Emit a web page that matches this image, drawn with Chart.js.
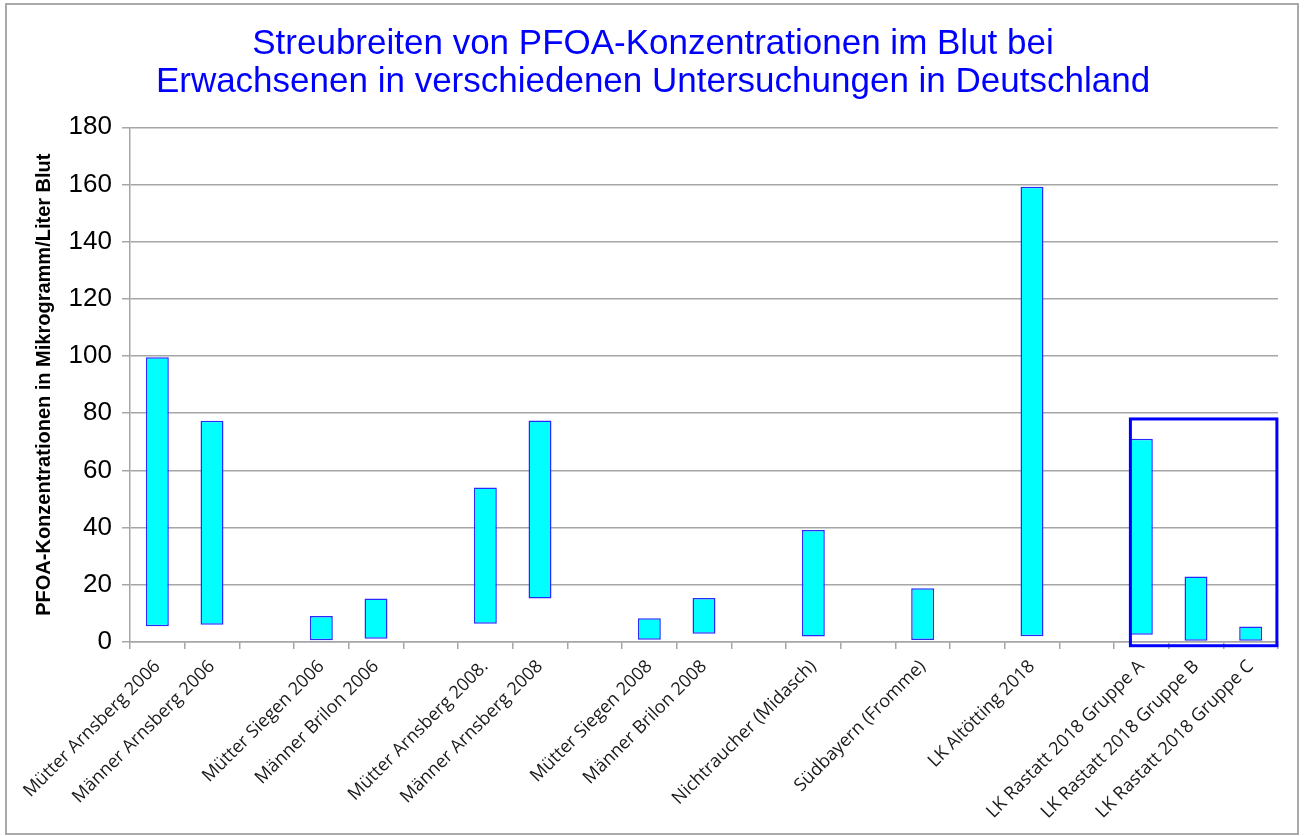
<!DOCTYPE html>
<html>
<head>
<meta charset="utf-8">
<script src="https://cdn.jsdelivr.net/npm/chart.js@4/dist/chart.umd.min.js"></script>
<style>
  html, body { margin: 0; padding: 0; background: #ffffff; }
  #frame {
    position: absolute; left: 5px; top: 3px;
    width: 1290px; height: 828px;
    border: 2px solid #a9a9a9;
  }
  #wrap { position: absolute; left: 0; top: 0; width: 1304px; height: 836px; }
</style>
</head>
<body>
<div id="frame"></div>
<div id="wrap"><canvas id="rangeChart"></canvas></div>
<script>
// Categories ('' = empty slot between groups)
const categories = [
    'Mütter Arnsberg 2006', 'Männer Arnsberg 2006', '',
    'Mütter Siegen 2006', 'Männer Brilon 2006', '',
    'Mütter Arnsberg 2008.', 'Männer Arnsberg 2008', '',
    'Mütter Siegen 2008', 'Männer Brilon 2008', '',
    'Nichtraucher (Midasch)', '',
    'Südbayern (Fromme)', '',
    'LK Altötting 2018', '',
    'LK Rastatt 2018 Gruppe A', 'LK Rastatt 2018 Gruppe B', 'LK Rastatt 2018 Gruppe C'
];

// Range of PFOA values (µg/l), lower and upper end
const lowValues  = [5.5, 6, null, 0.6, 1.1, null, 6.4, 15.2, null, 0.8, 2.9, null, 1.9, null, 0.7, null, 2, null, 2.5, 0.4, 0.4];
const highValues = [99.6, 77.4, null, 9.1, 15.2, null, 54, 77.5, null, 8.3, 15.4, null, 39.2, null, 18.8, null, 159.2, null, 71.1, 22.9, 5.4];

const yTicks = [0, 20, 40, 60, 80, 100, 120, 140, 160, 180];

// Highlight frame around the Rastatt groups (category index / value units)
const boxIndexRange = [17.8, 20.48];
const boxValueRange = [-1.3, 78];

const ranges = categories.map((c, i) =>
    lowValues[i] === null ? null : [lowValues[i], highValues[i]]);

const colors = {
    fill:   '#00ffff',
    border: '#2a2aff',
    title:  '#0000ff',
    grid:   '#a6a6a6',
    text:   '#000000'
};

// Draw the blue highlight rectangle through the scales
const highlightBox = {
    id: 'highlightBox',
    afterDatasetsDraw(chart) {
        const x = chart.scales.x, y = chart.scales.y, ctx = chart.ctx;
        const left = x.getPixelForValue(boxIndexRange[0]);
        const right = x.getPixelForValue(boxIndexRange[1]);
        const top = y.getPixelForValue(boxValueRange[1]);
        const bottom = y.getPixelForValue(boxValueRange[0]);
        ctx.save();
        ctx.strokeStyle = '#0000ff';
        ctx.lineWidth = 3;
        ctx.strokeRect(left, top, right - left, bottom - top);
        ctx.restore();
    }
};

new Chart(document.getElementById('rangeChart'), {
    type: 'bar',
    data: {
        labels: categories,
        datasets: [{
            data: ranges,
            backgroundColor: colors.fill,
            borderColor: colors.border,
            borderWidth: 1.5,
            borderSkipped: false,
            barPercentage: 0.42,
            categoryPercentage: 1
        }]
    },
    options: {
        responsive: true,
        maintainAspectRatio: false,
        animation: false,
        layout: { padding: { left: 28, right: 26, top: 0, bottom: 0 } },
        plugins: {
            legend: { display: false },
            tooltip: { enabled: false },
            title: {
                display: true,
                text: ['Streubreiten von PFOA-Konzentrationen im Blut bei',
                       'Erwachsenen in verschiedenen Untersuchungen in Deutschland'],
                color: colors.title,
                font: { family: '"Liberation Sans", Arial, sans-serif', size: 35, weight: 'normal', lineHeight: 1.09 },
                padding: { top: 25, bottom: 26 }
            }
        },
        scales: {
            x: {
                grid: { drawOnChartArea: false, drawTicks: true, tickLength: 7, color: colors.grid, lineWidth: 1.5 },
                border: { color: colors.grid, width: 1.5 },
                ticks: {
                    autoSkip: false,
                    maxRotation: 45,
                    minRotation: 45,
                    padding: 7,
                    color: '#1a1a1a',
                    font: { family: '"Open Sans", sans-serif', size: 18 }
                },
                afterFit(scale) { scale.height = 194; }
            },
            y: {
                min: 0,
                max: 180,
                afterBuildTicks(scale) { scale.ticks = yTicks.map(v => ({ value: v })); },
                grid: { color: colors.grid, lineWidth: 1.5, tickLength: 8 },
                border: { color: colors.grid, width: 1.5 },
                ticks: {
                    padding: 10,
                    color: colors.text,
                    font: { family: '"Liberation Sans", Arial, sans-serif', size: 26 }
                },
                title: {
                    display: true,
                    text: 'PFOA-Konzentrationen in Mikrogramm/Liter Blut',
                    color: colors.text,
                    font: { family: '"Liberation Sans", Arial, sans-serif', size: 20, weight: 'bold' },
                    padding: { top: 4, bottom: 0 }
                },
                afterFit(scale) { scale.width = 102; }
            }
        }
    },
    plugins: [highlightBox]
});
</script>
</body>
</html>
